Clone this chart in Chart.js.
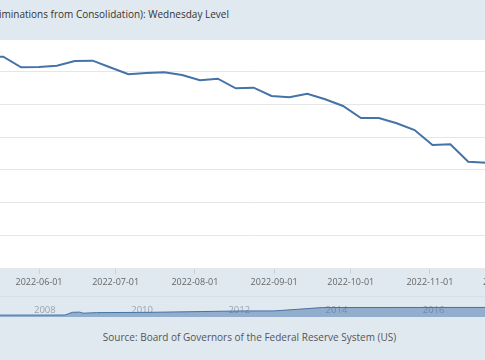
<!DOCTYPE html>
<html>
<head>
<meta charset="utf-8">
<script src="https://cdn.jsdelivr.net/npm/chart.js@4.4.1/dist/chart.umd.min.js"></script>
<style>
  html, body { margin: 0; padding: 0; }
  body {
    width: 485px; height: 360px; overflow: hidden; position: relative;
    background: #e1e9f0; font-family: 'Open Sans', sans-serif;
  }
  .title {
    position: absolute; top: 7px; right: 256px; white-space: nowrap;
    font-size: 10px; color: #333; text-align: right;
  }
  .main { position: absolute; top: 39px; left: -40px; width: 585px; height: 257px; }
  .nav-line { position: absolute; top: 296px; left: 0; width: 485px; height: 1px; background: #d6dee7; }
  .nav { position: absolute; top: 297px; left: 0; width: 485px; height: 20px; }
  .source {
    position: absolute; top: 330px; left: 0; width: 499px; text-align: center;
    font-size: 10px; color: #555;
  }
</style>
</head>
<body>
<div class="title">Assets: Total Assets: Total Assets (Less Eliminations from Consolidation): Wednesday Level</div>
<div class="main"><canvas id="mainChart"></canvas></div>
<div class="nav-line"></div>
<div class="nav"><canvas id="navChart"></canvas></div>
<div class="source">Source: Board of Governors of the Federal Reserve System (US)</div>
<script>
// weekly Wednesday levels, millions of dollars
const weekDates = [
  '2022-05-11', '2022-05-18', '2022-05-25', '2022-06-01', '2022-06-08', '2022-06-15',
  '2022-06-22', '2022-06-29', '2022-07-06', '2022-07-13', '2022-07-20', '2022-07-27',
  '2022-08-03', '2022-08-10', '2022-08-17', '2022-08-24', '2022-08-31', '2022-09-07',
  '2022-09-14', '2022-09-21', '2022-09-28', '2022-10-05', '2022-10-12', '2022-10-19',
  '2022-10-26', '2022-11-02', '2022-11-09', '2022-11-16', '2022-11-23', '2022-11-30'
];
const totalAssets = [
  8945900, 8945900, 8913500, 8914400, 8918400, 8932700,
  8933700, 8912900, 8892100, 8896100, 8898200, 8890000,
  8873700, 8878600, 8849300, 8851100, 8825700, 8821800,
  8832800, 8815700, 8795200, 8758500, 8758500, 8742300,
  8721800, 8676000, 8678100, 8624900, 8621800, 8581000
];
const monthTicks = ['2022-06-01', '2022-07-01', '2022-08-01', '2022-09-01', '2022-10-01', '2022-11-01', '2022-12-01'];

// navigator overview, trillions of dollars
const navYears = [2007.3, 2008.7, 2008.85, 2009.0, 2009.07, 2009.35, 2010.45, 2011.5, 2012.35, 2013.0, 2014.0, 2017.4];
const navValues = [0.9, 0.92, 2.2, 2.3, 1.8, 2.05, 2.2, 2.55, 2.85, 2.85, 4.45, 4.5];
const navLabels = [2008, 2010, 2012, 2014, 2016];

(function () {
  'use strict';

  var LINE = '#4572a7';
  var base = Date.UTC(2022, 5, 1);
  function dayOf(s) {
    var p = s.split('-');
    return (Date.UTC(+p[0], +p[1] - 1, +p[2]) - base) / 86400000;
  }

  Chart.defaults.font.family = "'Open Sans', sans-serif";
  Chart.defaults.animation = false;

  var plotBg = {
    id: 'plotBg',
    beforeDraw: function (chart) {
      var a = chart.chartArea, ctx = chart.ctx;
      ctx.save();
      ctx.fillStyle = '#ffffff';
      ctx.fillRect(a.left, a.top, a.right - a.left, a.bottom - a.top);
      ctx.restore();
    }
  };

  new Chart(document.getElementById('mainChart'), {
    type: 'line',
    data: {
      datasets: [{
        data: weekDates.map(function (d, i) { return { x: dayOf(d), y: totalAssets[i] }; }),
        borderColor: LINE,
        borderWidth: 2,
        pointRadius: 0,
        tension: 0,
        fill: false
      }]
    },
    options: {
      responsive: true,
      maintainAspectRatio: false,
      devicePixelRatio: 1,
      layout: { padding: 0 },
      plugins: { legend: { display: false }, tooltip: { enabled: false } },
      scales: {
        x: {
          type: 'linear',
          min: -30.92,
          max: 198.04,
          afterBuildTicks: function (scale) {
            scale.ticks = monthTicks.map(function (m) { return { value: dayOf(m), label: m }; });
          },
          afterFit: function (scale) { scale.height = 28; },
          ticks: {
            autoSkip: false,
            maxRotation: 0,
            padding: 3,
            color: '#666',
            font: { size: 9 },
            callback: function (v) {
              var i = monthTicks.map(dayOf).indexOf(v);
              return i >= 0 ? monthTicks[i] : '';
            }
          },
          grid: { drawOnChartArea: false, tickLength: 6, color: 'rgba(140,160,185,0.3)' },
          border: { display: false }
        },
        y: {
          min: 8300000,
          max: 9000000,
          afterFit: function (scale) { scale.width = 0; },
          ticks: { display: false, stepSize: 100000 },
          grid: { color: '#e6e6e6', drawTicks: false },
          border: { display: false }
        }
      }
    },
    plugins: [plotBg]
  });

  var navText = {
    id: 'navText',
    beforeDatasetsDraw: function (chart) {
      var ctx = chart.ctx, xs = chart.scales.x;
      ctx.save();
      ctx.fillStyle = '#9aa4ae';
      ctx.font = "9.5px 'Open Sans', sans-serif";
      ctx.textAlign = 'left';
      ctx.textBaseline = 'middle';
      navLabels.forEach(function (yr) {
        ctx.fillText(String(yr), xs.getPixelForValue(yr) + 3, 13.5);
      });
      ctx.restore();
    }
  };

  new Chart(document.getElementById('navChart'), {
    type: 'line',
    data: {
      datasets: [{
        data: navYears.map(function (y, i) { return { x: y, y: navValues[i] }; }),
        borderColor: LINE,
        borderWidth: 1,
        backgroundColor: 'rgba(69,114,167,0.5)',
        fill: 'origin',
        pointRadius: 0,
        tension: 0
      }]
    },
    options: {
      responsive: true,
      maintainAspectRatio: false,
      devicePixelRatio: 1,
      layout: { padding: 0 },
      plugins: { legend: { display: false }, tooltip: { enabled: false } },
      scales: {
        x: { type: 'linear', min: 2007.362, max: 2017.342, display: false },
        y: { min: 0, max: 9.4, display: false }
      }
    },
    plugins: [navText]
  });
})();
</script>
</body>
</html>
